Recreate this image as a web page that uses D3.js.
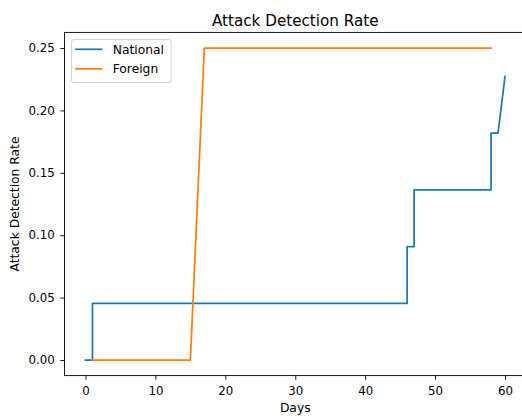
<!DOCTYPE html>
<html>
<head>
<meta charset="utf-8">
<script src="https://cdn.jsdelivr.net/npm/d3@7"></script>
<style>
  html, body { margin: 0; padding: 0; background: #fff; }
  svg { display: block; font-family: "DejaVu Sans", sans-serif; }
</style>
</head>
<body>
<svg id="chart" width="522" height="416"></svg>
<script>
// Cumulative attack detection rate per day (breakpoints of the step curves)
const nationalDays  = [0, 1, 1, 46, 46, 47, 47, 58, 58, 59, 60];
const nationalRates = [0, 0, 1/22, 1/22, 2/22, 2/22, 3/22, 3/22, 4/22, 4/22, 5/22];

const foreignDays  = [1, 15, 17, 58];
const foreignRates = [0, 0, 0.25, 0.25];

const seriesNames  = ["National", "Foreign"];
const seriesColors = ["#1f77b4", "#ff7f0e"];

const xTicks = [0, 10, 20, 30, 40, 50, 60];
const yTicks = [0.00, 0.05, 0.10, 0.15, 0.20, 0.25];

const plot = { left: 64.5, top: 32.4, right: 526, bottom: 375.6 };

const svg = d3.select("#chart");

const x = d3.scaleLinear().domain([-3, 63]).range([plot.left, plot.right]);
const y = d3.scaleLinear().domain([-0.0125, 0.2625]).range([plot.bottom, plot.top]);

const tickFont = "11.8px";
const labelFont = "12.3px";

// x axis
const xAxis = svg.append("g")
  .attr("transform", `translate(0,${plot.bottom})`)
  .call(d3.axisBottom(x).tickValues(xTicks).tickFormat(d3.format("d"))
        .tickSize(4.2).tickPadding(6.5).tickSizeOuter(0));
xAxis.select(".domain").remove();
xAxis.selectAll(".tick line").attr("stroke", "#000").attr("stroke-width", 0.9);
xAxis.selectAll(".tick text").attr("fill", "#000").style("font-size", tickFont)
  .style("font-family", "DejaVu Sans, sans-serif");

// y axis
const yAxis = svg.append("g")
  .attr("transform", `translate(${plot.left},0)`)
  .call(d3.axisLeft(y).tickValues(yTicks).tickFormat(d3.format(".2f"))
        .tickSize(4.2).tickPadding(5.5).tickSizeOuter(0));
yAxis.select(".domain").remove();
yAxis.selectAll(".tick line").attr("stroke", "#000").attr("stroke-width", 0.9);
yAxis.selectAll(".tick text").attr("fill", "#000").style("font-size", tickFont)
  .style("font-family", "DejaVu Sans, sans-serif");

// series lines
const line = d3.line().x(d => x(d[0])).y(d => y(d[1]));
const series = [
  d3.zip(nationalDays, nationalRates),
  d3.zip(foreignDays, foreignRates)
];
series.forEach((pts, i) => {
  svg.append("path")
    .datum(pts)
    .attr("d", line)
    .attr("fill", "none")
    .attr("stroke", seriesColors[i])
    .attr("stroke-width", 1.75)
    .attr("stroke-linejoin", "round")
    .attr("stroke-linecap", "square");
});

// axes frame
svg.append("rect")
  .attr("x", plot.left).attr("y", plot.top)
  .attr("width", plot.right - plot.left).attr("height", plot.bottom - plot.top)
  .attr("fill", "none").attr("stroke", "#000").attr("stroke-width", 0.9);

// title and axis labels
svg.append("text")
  .attr("x", (plot.left + plot.right) / 2).attr("y", 25.5)
  .attr("text-anchor", "middle")
  .style("font-size", "15.2px").attr("fill", "#000")
  .text("Attack Detection Rate");

svg.append("text")
  .attr("x", (plot.left + plot.right) / 2).attr("y", 412.3)
  .attr("text-anchor", "middle")
  .style("font-size", labelFont).attr("fill", "#000")
  .text("Days");

svg.append("text")
  .attr("transform", `translate(19.3,${(plot.top + plot.bottom) / 2}) rotate(-90)`)
  .attr("text-anchor", "middle")
  .style("font-size", labelFont).attr("fill", "#000")
  .text("Attack Detection Rate");

// legend
const legend = svg.append("g");
legend.append("rect")
  .attr("x", 71.5).attr("y", 39.5).attr("width", 99.5).attr("height", 43)
  .attr("rx", 2.5).attr("ry", 2.5)
  .attr("fill", "#fff").attr("fill-opacity", 0.8)
  .attr("stroke", "#cccccc").attr("stroke-width", 0.9);
seriesNames.forEach((name, i) => {
  const ly = 49.3 + i * 19.5;
  legend.append("line")
    .attr("x1", 76).attr("x2", 101.5).attr("y1", ly).attr("y2", ly)
    .attr("stroke", seriesColors[i]).attr("stroke-width", 1.75)
    .attr("stroke-linecap", "square");
  legend.append("text")
    .attr("x", 112.7).attr("y", ly).attr("dy", "0.36em")
    .style("font-size", labelFont).attr("fill", "#000")
    .text(name);
});
</script>
</body>
</html>
